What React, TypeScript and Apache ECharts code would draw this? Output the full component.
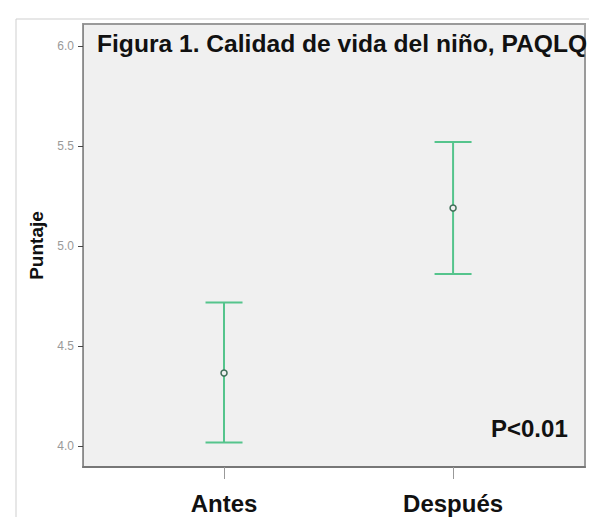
import React, { useEffect, useRef } from "react";
import * as echarts from "echarts";

const categories = ["Antes", "Después"];
const means = [4.365, 5.19];
const lowers = [4.017, 4.86];
const uppers = [4.717, 5.52];
const yTicks = [4.0, 4.5, 5.0, 5.5, 6.0];
const titleText = "Figura 1. Calidad de vida del niño, PAQLQ";
const pText = "P<0.01";
const yName = "Puntaje";

export default function App() {
  const ref = useRef<HTMLDivElement>(null);
  useEffect(() => {
    if (!ref.current) return;
    const chart = echarts.init(ref.current, undefined, { renderer: "svg" });
    const data = categories.map((c, i) => [i + 1, means[i], lowers[i], uppers[i]]);
    const green = "#55c48c";
    chart.setOption({
      animation: false,
      backgroundColor: "#ffffff",
      grid: {
        left: 83,
        right: 4,
        top: 24,
        bottom: 50,
        show: true,
        backgroundColor: "#f0f0f0",
        borderColor: "#9a9a9a",
        borderWidth: 2,
      },
      xAxis: {
        type: "value",
        min: 0.3843,
        max: 2.576,
        splitLine: { show: false },
        axisLine: { show: true, lineStyle: { color: "#777", width: 2 } },
        axisTick: {
          show: true,
          customValues: [1, 2],
          length: 12,
          lineStyle: { color: "#999", width: 1 },
        },
        axisLabel: {
          customValues: [1, 2],
          formatter: (v: number) => categories[Math.round(v) - 1] ?? "",
          margin: 24,
          fontFamily: "Liberation Sans, Arial, sans-serif",
          fontWeight: "bold",
          fontSize: 24,
          color: "#111",
        },
      },
      yAxis: {
        type: "value",
        min: 3.895,
        max: 6.11,
        name: yName,
        nameLocation: "middle",
        nameRotate: 90,
        nameGap: 29,
        nameTextStyle: {
          fontFamily: "Liberation Sans, Arial, sans-serif",
          fontWeight: "bold",
          fontSize: 19,
          color: "#111",
        },
        splitLine: { show: false },
        axisLine: { show: true, lineStyle: { color: "#8a8a8a", width: 1 } },
        axisTick: {
          show: true,
          customValues: yTicks,
          length: 5,
          lineStyle: { color: "#444", width: 1 },
        },
        axisLabel: {
          customValues: yTicks,
          formatter: (v: number) => v.toFixed(1),
          margin: 9,
          fontFamily: "Liberation Sans, Arial, sans-serif",
          fontSize: 12,
          color: "#999",
        },
      },
      graphic: [
        {
          type: "rect",
          shape: { x: 16, y: 19, width: 700, height: 700 },
          style: { fill: "none", stroke: "#cfcfcf", lineWidth: 1 },
          silent: true,
          z: -10,
        },
        {
          type: "text",
          x: 97,
          y: 43,
          style: {
            text: titleText,
            fontFamily: "Liberation Sans, Arial, sans-serif",
            fontWeight: "bold",
            fontSize: 24.6,
            fill: "#111",
            textVerticalAlign: "middle",
            verticalAlign: "middle",
          },
          z: 10,
        },
        {
          type: "text",
          x: 491,
          y: 428,
          style: {
            text: pText,
            fontFamily: "Liberation Sans, Arial, sans-serif",
            fontWeight: "bold",
            fontSize: 24,
            fill: "#111",
            textVerticalAlign: "middle",
            verticalAlign: "middle",
          },
          z: 10,
        },
      ],
      series: [
        {
          type: "custom",
          data,
          renderItem: (params: any, api: any) => {
            const x = api.value(0);
            const pm = api.coord([x, api.value(1)]);
            const pl = api.coord([x, api.value(2)]);
            const pu = api.coord([x, api.value(3)]);
            const half = 18.5;
            return {
              type: "group",
              children: [
                {
                  type: "line",
                  shape: { x1: pl[0], y1: pl[1], x2: pu[0], y2: pu[1] },
                  style: { stroke: green, lineWidth: 2 },
                },
                {
                  type: "line",
                  shape: { x1: pu[0] - half, y1: pu[1], x2: pu[0] + half, y2: pu[1] },
                  style: { stroke: green, lineWidth: 2 },
                },
                {
                  type: "line",
                  shape: { x1: pl[0] - half, y1: pl[1], x2: pl[0] + half, y2: pl[1] },
                  style: { stroke: green, lineWidth: 2 },
                },
                {
                  type: "circle",
                  shape: { cx: pm[0], cy: pm[1], r: 3 },
                  style: { fill: "#f0f0f0", stroke: "#3d6b55", lineWidth: 1.5 },
                },
              ],
            };
          },
        },
      ],
    });
    return () => chart.dispose();
  }, []);
  return (
    <div
      ref={ref}
      style={{ position: "absolute", left: 0, top: 0, width: 589, height: 517 }}
    />
  );
}
